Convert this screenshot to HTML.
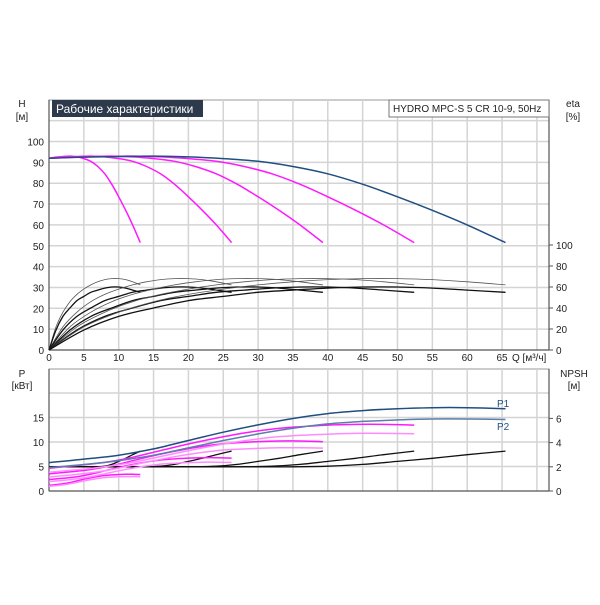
<!DOCTYPE html>
<html><head><meta charset="utf-8"><style>
body{margin:0;background:#fff;font-family:"Liberation Sans",sans-serif;}
svg text{font-family:"Liberation Sans","Noto Sans CJK SC",sans-serif;font-size:10px;fill:#222;}
</style></head><body>
<svg id="c" width="600" height="600" xmlns="http://www.w3.org/2000/svg"></svg>
<script>
// per-pump data (Q per pump, m3/h)
const qBase=[0,1,2,3,4,5,6,7,8,9,10,11,12,13.1];
const hBase=[92,92.5,92.8,93,92.6,91.8,90.5,88,84.5,79.5,73.5,67,60,51.5];
const etaHi=[0,22,36,46,53,58,62,65,67,68,68,67,65,62];
const etaLo=[0,19,32,40,47,51,55,57,59,60,60,59,57,55];
const p1Base=[1.16,1.3,1.46,1.72,2.06,2.4,2.7,2.96,3.16,3.28,3.36,3.4,3.4,3.36];
const p2Base=[0.96,1.08,1.24,1.46,1.76,2.06,2.33,2.56,2.74,2.84,2.9,2.94,2.94,2.92];
const npshBase=[2,2,2,2,2,2,2,2,2.05,2.2,2.45,2.7,3.0,3.3];
const pumpCounts=[1,2,3,4,5];
const qTicks=[0,5,10,15,20,25,30,35,40,45,50,55,60,65];
const hTicks=[0,10,20,30,40,50,60,70,80,90,100];
const etaTicks=[0,20,40,60,80,100];
const pTicks=[0,5,10,15];
const npshTicks=[0,2,4,6];

const svg=document.getElementById('c');const NS='http://www.w3.org/2000/svg';
function el(t,a,p){const e=document.createElementNS(NS,t);for(const k in a)e.setAttribute(k,a[k]);(p||svg).appendChild(e);return e;}
const X=q=>49+q*6.97;
const YH=h=>350-h*2.085;
const YE=e=>350-e*1.05;
const YP=p=>491-p*4.9;
const YN=n=>491-n*12.1;
const L=49,R=549;
function vgrid(y1,y2){for(let q=5;q<=70;q+=5){const g=el('line',{x1:X(q),x2:X(q),y1:y1,y2:y2,stroke:'#d4d4d4','stroke-width':1.5});

}}
el('rect',{x:L,y:100,width:R-L,height:250,fill:'#fff',stroke:'#999'});
el('rect',{x:L,y:369,width:R-L,height:122,fill:'#fff',stroke:'#999'});
vgrid(100,350);vgrid(369,491);
for(let h=10;h<=110;h+=10){const g=el('line',{x1:L,x2:R,y1:YH(h),y2:YH(h),stroke:'#d4d4d4','stroke-width':1.5});

}
for(let p=5;p<=20;p+=5){const g=el('line',{x1:L,x2:R,y1:YP(p),y2:YP(p),stroke:'#d4d4d4','stroke-width':1.5});

}
[[L,100,L,350],[R,100,R,350],[L,350,R,350],[L,369,L,491],[R,369,R,491],[L,491,R,491]].forEach(a=>el('line',{x1:a[0],y1:a[1],x2:a[2],y2:a[3],stroke:'#555','stroke-width':1.2}));
hTicks.forEach(h=>{const t=el('text',{x:44,y:YH(h)+4,'text-anchor':'end'});t.textContent=h;

});
qTicks.forEach(q=>{const t=el('text',{x:X(q),y:361,'text-anchor':'middle'});t.textContent=q;

});
etaTicks.forEach(e=>{el('line',{x1:R,x2:R+4,y1:YE(e),y2:YE(e),stroke:'#555'});const t=el('text',{x:556,y:YE(e)+4});t.textContent=e;

});
pTicks.forEach(p=>{const t=el('text',{x:44,y:YP(p)+4,'text-anchor':'end'});t.textContent=p;

});
npshTicks.forEach(n=>{el('line',{x1:R,x2:R+4,y1:YN(n),y2:YN(n),stroke:'#555'});const t=el('text',{x:556,y:YN(n)+4});t.textContent=n;

});
function txt(x,y,s,name,anchor){const t=el('text',{x:x,y:y,'text-anchor':anchor||'start'});t.textContent=s;

return t;}
txt(22,107,'H','h-axis-title','middle');txt(22,120,'[м]','h-axis-unit','middle');
txt(573,107,'eta','eta-axis-title','middle');txt(573,120,'[%]','eta-axis-unit','middle');
txt(512,361,'Q [м³/ч]','q-axis-title');
txt(22,377,'P','p-axis-title','middle');txt(22,389,'[кВт]','p-axis-unit','middle');
txt(574,377,'NPSH','npsh-axis-title','middle');txt(574,389,'[м]','npsh-axis-unit','middle');
const tb=el('rect',{x:52,y:100,width:151,height:17,fill:'#2d3a4c'});


const tt=el('text',{x:56,y:113,style:'font-size:12px;fill:#fff'});tt.textContent='Рабочие характеристики';


el('rect',{x:389,y:100,width:160,height:17,fill:'#fff',stroke:'#777'});
txt(393,112,'HYDRO MPC-S 5 CR 10-9, 50Hz','legend-model');
function curve(ys,n,Y,color,w,name){
 const pts=qBase.map((q,i)=>[X(q*n),Y(ys[i])]);
 let d='M'+pts[0][0].toFixed(1)+','+pts[0][1].toFixed(1);
 for(let i=0;i<pts.length-1;i++){
  const p0=pts[Math.max(0,i-1)],p1=pts[i],p2=pts[i+1],p3=pts[Math.min(pts.length-1,i+2)];
  const c1=[p1[0]+(p2[0]-p0[0])/6,p1[1]+(p2[1]-p0[1])/6],c2=[p2[0]-(p3[0]-p1[0])/6,p2[1]-(p3[1]-p1[1])/6];
  d+=' C'+c1.map(v=>v.toFixed(1)).join(',')+' '+c2.map(v=>v.toFixed(1)).join(',')+' '+p2.map(v=>v.toFixed(1)).join(',');
 }
 const p=el('path',{d:d,fill:'none',stroke:color,'stroke-width':w});
 
 }
const scale=(a,k)=>a.map(v=>v*k);
pumpCounts.forEach(n=>{
 curve(etaHi,n,YE,'#555',0.8,'eta-curve-'+n);
 curve(etaLo,n,YE,'#111',1.3,'eta-curve-'+n+'-b');
 curve(npshBase,n,YN,'#111',1.3,'npsh-curve-'+n);
});
pumpCounts.forEach(n=>{
 const c=n===5?'#1f4e80':'#ff19ff';
 curve(hBase,n,YH,c,1.5,'h-curve-'+n);
 curve(scale(p1Base,n),n,YP,c,1.5,'p1-curve-'+n);
 curve(scale(p2Base,n),n,YP,n===5?'#5a7fa8':'#ff8cff',1.5,'p2-curve-'+n);
});
txt(497,407,'P1','p1-label').setAttribute('style','fill:#1f4e80');
txt(497,430,'P2','p2-label').setAttribute('style','fill:#1f4e80');
</script>
</body></html>
